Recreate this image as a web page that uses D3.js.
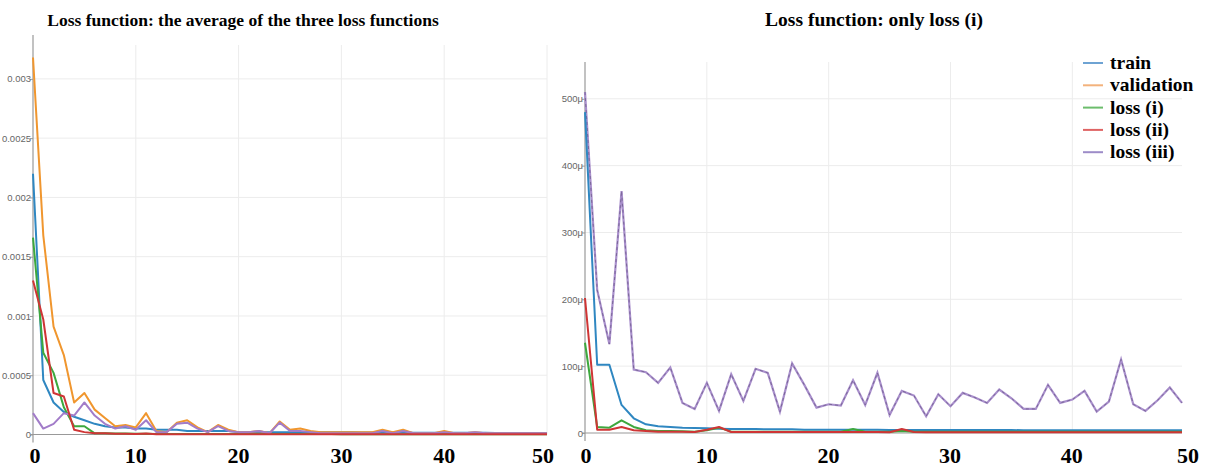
<!DOCTYPE html>
<html>
<head>
<meta charset="utf-8">
<script src="https://cdn.jsdelivr.net/npm/d3@7"></script>
<style>
  body { margin: 0; background: #fff; }
  .tick text { font-family: "Liberation Sans", Arial, sans-serif; }
</style>
</head>
<body>
<div id="chart"></div>
<script>
// epochs
var epochsLeft = d3.range(0, 51);
var epochsRight = d3.range(0, 50);

// left panel: average of the three loss functions
var trainLeft = [0.0022, 0.00046, 0.00027, 0.00019, 0.00015, 0.00012, 0.00009, 0.00007, 0.00006, 0.00006,
  0.00005, 0.00005, 0.00004, 0.00004, 0.00004, 0.00003, 0.00003, 0.00003, 0.00003, 0.00003,
  0.00002, 0.00002, 0.00002, 0.00002, 0.00002, 0.00002, 0.00002, 0.00002, 0.00002, 0.00002,
  0.000018, 0.000018, 0.000017, 0.000017, 0.000016, 0.000016, 0.000016, 0.000015, 0.000015, 0.000015,
  0.000015, 0.000014, 0.000014, 0.000014, 0.000014, 0.000013, 0.000013, 0.000013, 0.000013, 0.000013, 0.000012];
var validationLeft = [0.00318, 0.00168, 0.00091, 0.00067, 0.00027, 0.00035, 0.00021, 0.00014, 0.00007, 0.00008,
  0.00006, 0.00018, 0.00003, 0.00002, 0.0001, 0.00012, 0.00006, 0.00002, 0.00008, 0.00004,
  0.00002, 0.00002, 0.00003, 0.00001, 0.00011, 0.00004, 0.00005, 0.00003, 0.00002, 0.00002,
  0.00002, 0.00002, 0.00002, 0.00002, 0.00004, 0.00002, 0.00004, 0.00001, 0.00001, 0.00001,
  0.00003, 0.00001, 0.00001, 0.00002, 0.00001, 0.00001, 0.00001, 0.00001, 0.00001, 0.00001, 0.00001];
var loss1Left = [0.00166, 0.00069, 0.00052, 0.00023, 0.00007, 0.00007, 0.00001, 0.00001, 0.000008, 0.000008,
  0.000006, 0.000006, 0.000005, 0.000005, 0.000005, 0.000005, 0.000005, 0.000005, 0.000005, 0.000005,
  0.000004, 0.000004, 0.000004, 0.000004, 0.000004, 0.000004, 0.000004, 0.000004, 0.000004, 0.000004,
  0.000003, 0.000003, 0.000003, 0.000003, 0.000003, 0.000003, 0.000003, 0.000003, 0.000003, 0.000003,
  0.000003, 0.000003, 0.000003, 0.000003, 0.000003, 0.000003, 0.000003, 0.000003, 0.000003, 0.000003, 0.000003];
var loss2Left = [0.0013, 0.00097, 0.00035, 0.00032, 0.00004, 0.00002, 0.00001, 0.00001, 0.000006, 0.000006,
  0.000005, 0.000008, 0.000003, 0.000003, 0.000003, 0.000003, 0.000003, 0.000003, 0.000003, 0.000003,
  0.000002, 0.000002, 0.000002, 0.000002, 0.000002, 0.000002, 0.000002, 0.000002, 0.000002, 0.000002,
  0.000002, 0.000002, 0.000002, 0.000002, 0.000002, 0.000002, 0.000002, 0.000002, 0.000002, 0.000002,
  0.000002, 0.000002, 0.000002, 0.000002, 0.000002, 0.000002, 0.000002, 0.000002, 0.000002, 0.000002, 0.000002];
var loss3Left = [0.00018, 0.00005, 0.00009, 0.00018, 0.00016, 0.00027, 0.00016, 0.00009, 0.00005, 0.00007,
  0.00004, 0.00012, 0.00002, 0.00002, 0.00009, 0.0001, 0.00005, 0.00002, 0.00007, 0.00003,
  0.00002, 0.00002, 0.00003, 0.00001, 0.0001, 0.00003, 0.00003, 0.00002, 0.00001, 0.00001,
  0.00001, 0.00001, 0.00001, 0.00001, 0.00003, 0.00001, 0.00003, 0.00001, 0.00001, 0.00001,
  0.00002, 0.00001, 0.00001, 0.00002, 0.00001, 0.00001, 0.00001, 0.00001, 0.00001, 0.00001, 0.00001];

// right panel: only loss (i)  (values in micro units)
var trainRight = [480, 102, 102, 42, 22, 13, 10, 9, 8, 7.5,
  7, 6.5, 6, 6, 6, 5.5, 5.5, 5.5, 5, 5,
  5, 5, 5, 5, 5, 4.5, 4.5, 4.5, 4.5, 4.5,
  4.5, 4.5, 4.5, 4.5, 4.5, 4.5, 4, 4, 4, 4,
  4, 4, 4, 4, 4, 4, 4, 4, 4, 4];
var loss1Right = [135, 9, 8, 19, 9, 4, 3, 3, 2.5, 2,
  4, 8, 2, 2, 2, 2, 2, 2, 2, 2,
  2, 2, 6, 2, 2, 2, 3, 2, 2, 2,
  2, 2, 2, 2, 2, 2, 2, 2, 2, 2,
  2, 2, 2, 2, 2, 2, 2, 2, 2, 2];
var loss2Right = [202, 5, 5, 9, 4, 3, 2, 2, 2, 1.5,
  5, 9, 1.5, 1.5, 1.5, 1.5, 1.5, 1.5, 1.5, 1.5,
  1.5, 1.5, 1.5, 1.5, 1.5, 1, 6, 1.5, 1, 1,
  1, 1, 1, 1, 1, 1, 1, 1, 1, 1,
  1, 1, 1, 1, 1, 1, 1, 1, 1, 1];
var loss3Right = [510, 214, 133, 362, 95, 91, 75, 98, 45, 36,
  75, 33, 88, 48, 96, 90, 32, 104, 72, 38,
  43, 41, 79, 42, 90, 27, 63, 56, 25, 58,
  40, 60, 53, 45, 65, 52, 36, 36, 72, 45,
  50, 63, 32, 47, 110, 43, 33, 49, 68, 45];

var leftTicks = [0, 0.0005, 0.001, 0.0015, 0.002, 0.0025, 0.003];
var rightTicks = [0, 100, 200, 300, 400, 500];
var xTicks = [0, 10, 20, 30, 40, 50];
var legendNames = ["train", "validation", "loss (i)", "loss (ii)", "loss (iii)"];
var legendColors = ["#6ea3d3", "#f3b27c", "#6cbd6c", "#df6464", "#9d8cc8"];
var lineColors = ["#2f87c1", "#f0962e", "#3da83d", "#cf3535", "#a27cc9"];

var svg = d3.select("#chart").append("svg")
  .attr("width", 1207)
  .attr("height", 468);

var serif = "'Liberation Serif', 'Times New Roman', serif";

function panel(opt) {
  var x = d3.scaleLinear().domain(opt.xDomain).range(opt.xRange);
  var y = d3.scaleLinear().domain(opt.yDomain).range(opt.yRange);
  var g = svg.append("g");

  // grid
  g.selectAll(".vgrid").data(xTicks.filter(function(d){ return d > 0 && x(d) <= opt.xRange[1]; }))
    .enter().append("line")
    .attr("x1", function(d){ return x(d); }).attr("x2", function(d){ return x(d); })
    .attr("y1", opt.gridTop).attr("y2", opt.yRange[0])
    .style("stroke", "#ececec").style("stroke-width", 1);
  g.selectAll(".hgrid").data(opt.yTicks.filter(function(d){ return d > 0; }))
    .enter().append("line")
    .attr("x1", opt.xRange[0]).attr("x2", opt.xRange[1])
    .attr("y1", function(d){ return y(d); }).attr("y2", function(d){ return y(d); })
    .style("stroke", "#ececec").style("stroke-width", 1);

  // y axis
  var yAxis = d3.axisLeft(y).tickValues(opt.yTicks).tickSize(3).tickFormat(opt.fmt);
  var ya = g.append("g").attr("transform", "translate(" + opt.xRange[0] + ",0)").call(yAxis);
  ya.select(".domain").remove();
  ya.selectAll(".tick line").style("stroke", "#999");
  ya.selectAll(".tick text").style("font-size", "9.5px").style("fill", "#666").attr("x", -2);
  g.append("line")
    .attr("x1", opt.xRange[0]).attr("x2", opt.xRange[0])
    .attr("y1", opt.yRange[1]).attr("y2", opt.yRange[0] + 8)
    .style("stroke", "#999").style("stroke-width", 1.2);
  g.append("line")
    .attr("x1", opt.xRange[0] - 3).attr("x2", opt.xRange[1])
    .attr("y1", opt.yRange[0]).attr("y2", opt.yRange[0])
    .style("stroke", "#999").style("stroke-width", 1.2);

  // x tick labels, big bold serif
  g.selectAll(".xlab").data(xTicks).enter().append("text")
    .attr("x", function(d){ return opt.xLab(d); })
    .attr("y", 463)
    .attr("text-anchor", "middle")
    .style("font-family", serif).style("font-weight", "bold").style("font-size", "22px")
    .text(function(d){ return d; });

  // title
  g.append("text")
    .attr("x", opt.titleX).attr("y", 26)
    .attr("text-anchor", "middle")
    .style("font-family", serif).style("font-weight", "bold").style("font-size", opt.titleSize)
    .text(opt.title);

  var line = d3.line()
    .x(function(d, i){ return x(opt.epochs[i]); })
    .y(function(d){ return y(d); });

  opt.series.forEach(function(s) {
    if (s.under) {
      g.append("path").datum(s.values).attr("d", line)
        .style("fill", "none").style("stroke", s.under).style("stroke-width", 2.2);
    }
    g.append("path").datum(s.values).attr("d", line)
      .style("fill", "none").style("stroke", s.color)
      .style("stroke-width", s.width || 2)
      .style("stroke-dasharray", s.dash || null)
      .style("stroke-linejoin", "round");
  });
  return g;
}

panel({
  title: "Loss function: the average of the three loss functions",
  titleX: 243, titleSize: "17.5px",
  epochs: epochsLeft,
  xDomain: [0, 50], xRange: [33, 547],
  yDomain: [0, 0.00337], yRange: [434.5, 35],
  gridTop: 45,
  yTicks: leftTicks,
  fmt: function(d){ return d === 0 ? "0" : d3.format("~g")(d); },
  xLab: function(d){ return d === 0 ? 35 : d === 50 ? 543 : 33 + d * 10.28; },
  series: [
    { values: trainLeft, color: lineColors[0] },
    { values: validationLeft, color: lineColors[1] },
    { values: loss1Left, color: lineColors[2] },
    { values: loss3Left, color: lineColors[4] },
    { values: loss2Left, color: lineColors[3] }
  ]
});

var rightG = panel({
  title: "Loss function: only loss (i)",
  titleX: 874, titleSize: "19.5px",
  epochs: epochsRight,
  xDomain: [0, 49], xRange: [585, 1182],
  yDomain: [0, 555], yRange: [433, 62],
  gridTop: 62,
  yTicks: rightTicks,
  fmt: function(d){ return d === 0 ? "0" : d + "μ"; },
  xLab: function(d){ return d === 0 ? 586 : d === 50 ? 1188 : 585 + d * 12.17; },
  series: [
    { values: loss3Right, color: "#7a6699", width: 1, dash: "3,3", under: "#a98fcc" },
    { values: trainRight, color: lineColors[0] },
    { values: loss1Right, color: lineColors[2] },
    { values: loss2Right, color: lineColors[3] }
  ]
});

// legend on right panel
var legend = svg.append("g").attr("transform", "translate(1083,63)");
legendNames.forEach(function(name, i) {
  var row = legend.append("g").attr("transform", "translate(0," + (i * 22.3) + ")");
  row.append("line")
    .attr("x1", 0).attr("x2", 20).attr("y1", 0).attr("y2", 0)
    .style("stroke", legendColors[i]).style("stroke-width", 2);
  row.append("text")
    .attr("x", 27).attr("y", 6)
    .style("font-family", serif).style("font-weight", "bold").style("font-size", "19.5px")
    .text(name);
});
</script>
</body>
</html>
